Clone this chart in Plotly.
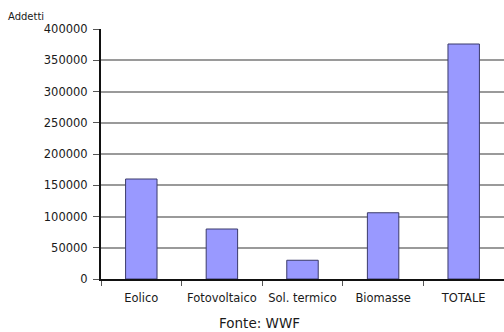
import plotly.graph_objects as go

# Employment in renewable energy sectors (source: WWF)
categories = ["Eolico", "Fotovoltaico", "Sol. termico", "Biomasse", "TOTALE"]
addetti = [160000, 80000, 30000, 106000, 376000]
y_ticks = [0, 50000, 100000, 150000, 200000, 250000, 300000, 350000, 400000]

FONT = "DejaVu Sans"
TEXT = "#1a1a1a"

W, H = 504, 332
ML, MR, MT, MB = 101, 0, 29, 53
plot_w = W - ML - MR
plot_h = H - MT - MB


def px_to_paper(px, py):
    """Convert page pixel coordinates to paper coordinates."""
    return (px - ML) / plot_w, (H - MB - py) / plot_h


fig = go.Figure(
    go.Bar(
        x=categories,
        y=addetti,
        width=0.39,
        marker=dict(color="#9999FF", line=dict(color="#3a3a6a", width=1)),
    )
)

ax, ay = px_to_paper(6, 17)
fx, fy = px_to_paper(259, 323)

fig.update_layout(
    width=W,
    height=H,
    margin=dict(l=ML, r=MR, t=MT, b=MB),
    paper_bgcolor="white",
    plot_bgcolor="white",
    showlegend=False,
    font=dict(family=FONT, size=12, color=TEXT),
    annotations=[
        dict(text="Addetti", x=ax, y=ay, xref="paper", yref="paper",
             xanchor="left", yanchor="middle", showarrow=False,
             font=dict(family=FONT, size=10, color=TEXT)),
        dict(text="Fonte: WWF", x=fx, y=fy, xref="paper", yref="paper",
             xanchor="center", yanchor="middle", showarrow=False,
             font=dict(family=FONT, size=13.5, color=TEXT)),
    ],
)

fig.update_xaxes(
    range=[-0.5, 4.5],
    showline=True, linecolor="#111111", linewidth=2,
    ticks="outside", tickson="boundaries", ticklen=5, tickcolor="#555555",
    tickangle=0,
    ticklabelstandoff=7,
    showgrid=False,
    tickfont=dict(family=FONT, size=11.5, color=TEXT),
)
fig.update_yaxes(
    range=[0, 400000],
    tickvals=y_ticks,
    ticktext=[str(v) for v in y_ticks],
    showline=True, linecolor="#111111", linewidth=2,
    ticks="outside", ticklen=6, tickcolor="#555555",
    ticklabelstandoff=3,
    showgrid=True, gridcolor="#9a9a9a", gridwidth=1.5,
    zeroline=False,
    tickfont=dict(family=FONT, size=11.5, color=TEXT),
)

fig.write_html("out.html")
